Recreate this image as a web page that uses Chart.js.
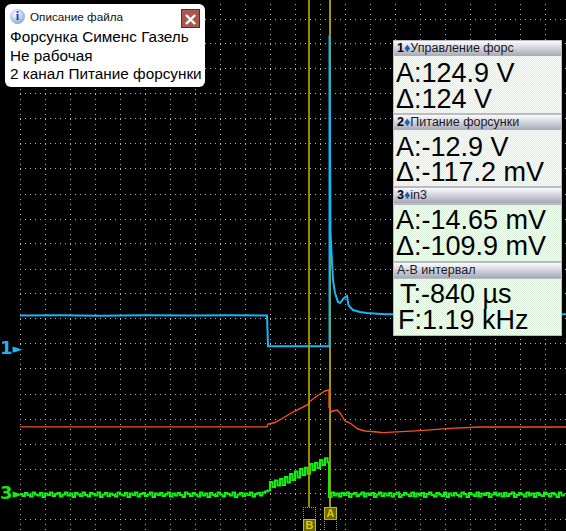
<!DOCTYPE html>
<html>
<head>
<meta charset="utf-8">
<title>Форсунка Сименс Газель</title>
<script src="https://cdn.jsdelivr.net/npm/chart.js@4/dist/chart.umd.min.js"></script>
<style>
html, body { margin: 0; padding: 0; background: #000; overflow: hidden; }
#wrap { position: relative; width: 566px; height: 531px; font-family: "Liberation Sans", Arial, sans-serif; }
canvas { position: absolute; left: 0; top: 0; }
.abs { position: absolute; white-space: nowrap; }
#note { left: 5px; top: 4px; width: 200px; height: 83px; background: #fff; border-radius: 6px; }
#noteIcon { left: 5px; top: 5px; width: 15px; height: 15px; border-radius: 50%; background: radial-gradient(circle at 40% 35%, #fff, #8fb0e0 70%, #5577bb); color: #1a3fa0; font: bold 12px/15px "Liberation Serif", serif; text-align: center; }
#noteTitle { left: 25px; top: 6px; font: 11.7px/14px "Liberation Sans", sans-serif; color: #111; }
#noteClose { left: 176px; top: 5px; width: 17px; height: 17px; background: #a8584e; border: 1px solid #5a2a28; color: #fff; font: bold 18px/17px "DejaVu Sans", sans-serif; text-align: center; }
.noteLine { left: 5px; font: 15.3px/18px "Liberation Sans", sans-serif; color: #000; }
#panel { left: 393px; top: 40px; width: 169px; height: 296px; background: #b8bcc0; }
.head { left: 1px; width: 167px; height: 15px; background: linear-gradient(#fbfbff, #a6a8b6); font: 12.5px/15px "Liberation Sans", sans-serif; color: #1a1a22; padding-left: 3px; box-sizing: border-box; }
.head b { font-weight: bold; color: #000; }
.head i { font-style: normal; color: #1a5fb0; }
.body { left: 1px; width: 167px; background-color: #eef8ee; background-image: repeating-conic-gradient(#dcf2dc 0 25%, #f6fbf6 0 50%); background-size: 2px 2px; }
.val { font: 27px/27px "Liberation Sans", sans-serif; color: #000; }
.curBox { width: 11px; height: 11px; border: 1px dotted #b0a800; font: bold 11px/11px "Liberation Sans", sans-serif; text-align: center; }
.curOn { background: #6b6600; border: 1px solid #c8c000; color: #d8d000; }
.mark { font: bold 18px/18px "DejaVu Sans", sans-serif; }
.mark span { font-size: 13px; vertical-align: 1px; }
</style>
</head>
<body>
<div id="wrap">
  <canvas id="scope" width="566" height="531"></canvas>

  <div class="abs" id="note">
    <div class="abs" id="noteIcon">i</div>
    <div class="abs" id="noteTitle">Описание файла</div>
    <div class="abs" id="noteClose">×</div>
    <div class="abs noteLine" style="top:24px">Форсунка Сименс Газель</div>
    <div class="abs noteLine" style="top:43px">Не рабочая</div>
    <div class="abs noteLine" style="top:61px">2 канал Питание форсунки</div>
  </div>

  <div class="abs" id="panel">
    <div class="abs head" style="top:1px"><b>1</b><i>♦</i>Управление форс</div>
    <div class="abs body" style="top:16px;height:57px"></div>
    <div class="abs val" style="left:3px;top:20px">A:124.9 V</div>
    <div class="abs val" style="left:3px;top:46px">Δ:124 V</div>

    <div class="abs head" style="top:75px"><b>2</b><i>♦</i>Питание форсунки</div>
    <div class="abs body" style="top:90px;height:56px"></div>
    <div class="abs val" style="left:3px;top:94px">A:-12.9 V</div>
    <div class="abs val" style="left:3px;top:119px">Δ:-117.2 mV</div>

    <div class="abs head" style="top:148px"><b>3</b><i>♦</i>in3</div>
    <div class="abs body" style="top:165px;height:56px"></div>
    <div class="abs val" style="left:3px;top:167px">A:-14.65 mV</div>
    <div class="abs val" style="left:3px;top:193px">Δ:-109.9 mV</div>

    <div class="abs head" style="top:223px">A-B интервал</div>
    <div class="abs body" style="top:239px;height:56px"></div>
    <div class="abs val" style="left:7px;top:241px">T:-840 µs</div>
    <div class="abs val" style="left:5px;top:267px">F:1.19 kHz</div>
  </div>

  <div class="abs mark" style="left:0;top:339px;color:#19b5f5">1<span>►</span></div>
  <div class="abs mark" style="left:0;top:484px;color:#10f010">3<span>►</span></div>

  <div class="abs curBox" style="left:303px;top:507px"></div>
  <div class="abs curBox curOn" style="left:303px;top:519px">B</div>
  <div class="abs curBox curOn" style="left:324px;top:507px">A</div>
  <div class="abs curBox" style="left:324px;top:519px"></div>
</div>

<script>
// time in ms from first grid line, 1 div = 1 ms
const ch1Times = [0, 1.6, 3.2, 5, 7, 8.4, 9.88, 9.92, 12.36, 12.38, 12.42, 12.48, 12.52, 12.6, 12.72, 12.8, 12.96, 13.08, 13.14, 13.2, 13.32, 13.6, 13.88, 14.6, 21.84];
const ch1Volts = [12.8, 12.9, 12.7, 12.9, 12.8, 12.9, 12.8, 0.5, 0.5, 124.9, 46, 34.2, 27, 21.8, 18.2, 17.8, 19.8, 20.6, 17, 16.2, 15, 14.2, 13.8, 13.3, 13.3];

const ch2Times = [0, 5, 9.88, 9.92, 10.2, 10.52, 10.92, 11.56, 11.56, 11.88, 12.2, 12.36, 12.36, 12.44, 12.52, 12.68, 12.8, 13, 13.2, 13.52, 13.8, 14.28, 14.52, 16, 17.2, 18.4, 21.84];
const ch2Volts = [-13.09, -13.09, -13.09, -13.056, -13.038, -12.984, -12.912, -12.816, -12.792, -12.72, -12.66, -12.648, -12.852, -12.912, -12.9, -12.888, -12.924, -13.02, -13.044, -13.116, -13.14, -13.152, -13.16, -13.135, -13.108, -13.092, -13.092];

// noisy trace, one reading every 0.1 ms up to the drop
const ch3SampleMs = 0.1;
const ch3MilliVoltsBefore = [
  -4, -12, 0, -8, -14, 2, -6, -10, 0, -16, -2, -8, 2, -12, -4, 0, -14, -6, 2, -10,
  -2, -16, 0, -6, -12, 2, -8, -14, 0, -4, -10, 2, -16, -6, 0, -12, -2, -8, -14, 2,
  -6, -10, 0, -16, -2, -8, 2, -14, -4, 0, -12, -6, 2, -16, -2, -8, 0, -12, -6, 2,
  -14, -2, -10, 0, -8, -16, 2, -4, -12, 0, -6, -14, 2, -10, -2, -16, 0, -8, -12, 2,
  -6, -14, 0, -4, -10, 2, -16, -6, 0, -12, -2, -8, 2, -14, -4, 0, -10, 2, 6, 10,
  44, 24, 50, 30, 56, 32, 64, 42, 76, 52, 86, 62, 96, 72, 101, 77, 116, 92, 120, 100, 132, 112, 139, 123
];
const ch3MilliVoltsAfter = [
  -16, 2, -10, -2, -14, 0, -8, 2, -16, -4, 0, -12, -6, 2, -14, -2, -8, 0, -16, -6,
  2, -12, -2, -10, 0, -14, -4, 2, -16, -8, 0, -6, -12, 2, -14, -2, -10, 0, -16, -4,
  2, -8, -14, 0, -6, -12, 2, -16, -2, -10, 0, -8, -14, 2, -4, -16, 0, -6, -12, 2,
  -14, -2, -8, 0, -16, -6, 2, -10, -2, -14, 0, -12, -4, 2, -16, -8, 0, -6, -14, 2,
  -10, -2, -16, 0, -8, -12, 2, -4, -14, 0, -6, -16, 2, -10, -2
];
const ch3AfterStart = 12.36;

const cursorBTime = 11.56;
const cursorATime = 12.4;
const cursorSpan = [-0.76, 19.52]; // in grid divisions

function toPoints(times, values) {
    return times.map((t, i) => ({ x: t, y: values[i] }));
}

const ch3Points = ch3MilliVoltsBefore.map((v, i) => ({ x: i * ch3SampleMs, y: v }))
    .concat(ch3MilliVoltsAfter.map((v, i) => ({ x: ch3AfterStart + i * ch3SampleMs, y: v })));

function trace(label, data, color, yAxisID, width, order, stepped) {
    return {
        label: label,
        data: data,
        borderColor: color,
        borderWidth: width,
        pointRadius: 0,
        tension: 0,
        stepped: stepped || false,
        yAxisID: yAxisID,
        order: order
    };
}

function cursor(label, time, color, order) {
    return trace(label, toPoints([time, time], cursorSpan), color, 'y', 1, order);
}

new Chart(document.getElementById('scope').getContext('2d'), {
    type: 'line',
    data: {
        datasets: [
            cursor('B', cursorBTime, '#a8a000', 0),
            trace('Управление форс', toPoints(ch1Times, ch1Volts), '#19b5f5', 'yCh1', 2, 1),
            trace('Питание форсунки', toPoints(ch2Times, ch2Volts), '#f8501c', 'yCh2', 1.4, 2),
            trace('in3', ch3Points, '#10f010', 'yCh3', 2, 3, true),
            cursor('A', cursorATime, '#b8ae00', 4)
        ]
    },
    options: {
        responsive: false,
        animation: false,
        devicePixelRatio: 1,
        layout: { padding: { left: 20 } },
        plugins: { legend: { display: false }, tooltip: { enabled: false } },
        events: [],
        scales: {
            x: {
                type: 'linear',
                min: 0,
                max: 21.84,
                ticks: { display: false, stepSize: 1, includeBounds: false, autoSkip: false },
                border: { display: false, dash: [1, 4], dashOffset: 1 },
                grid: { color: '#b4b4b4', lineWidth: 1, drawTicks: false }
            },
            y: {
                reverse: true,
                min: -0.76,
                max: 20.48,
                ticks: { display: false, stepSize: 1, includeBounds: false, autoSkip: false },
                border: { display: false, dash: [1, 4] },
                grid: { color: '#b4b4b4', lineWidth: 1, drawTicks: false }
            },
            yCh1: { display: false, min: -73.4, max: 139 },
            yCh2: { display: false, min: -14.34, max: -7.968 },
            yCh3: { display: false, min: -152, max: 1972 }
        }
    }
});
</script>
</body>
</html>
